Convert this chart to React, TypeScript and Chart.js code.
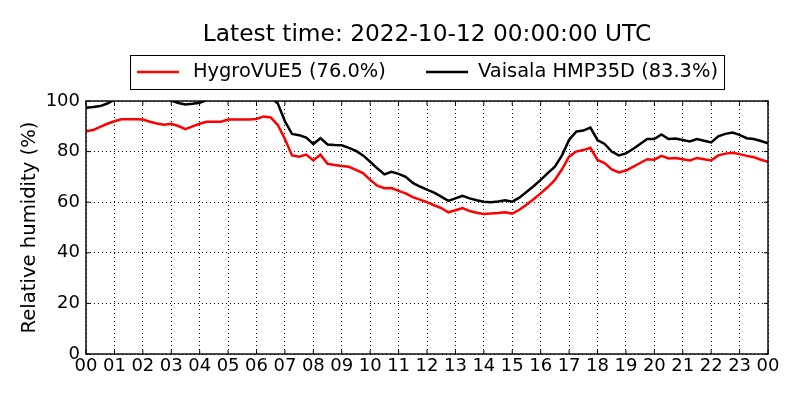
import { useEffect, useRef } from 'react';
import { Chart, registerables, Plugin } from 'chart.js';

Chart.register(...registerables);

const chartTitle = 'Latest time: 2022-10-12 00:00:00 UTC';
const yAxisTitle = 'Relative humidity (%)';
const hourLabels = [
  '00', '01', '02', '03', '04', '05', '06', '07', '08', '09', '10', '11', '12',
  '13', '14', '15', '16', '17', '18', '19', '20', '21', '22', '23', '00',
];
const seriesNames = ['HygroVUE5 (76.0%)', 'Vaisala HMP35D (83.3%)'];
const seriesColors = ['#ff0000', '#000000'];

// one reading every 15 minutes, 00:00 -> 24:00
const stepMinutes = 15;

const hygroVue5 = [
  88.0, 88.5, 89.8, 91.0, 92.0, 92.8, 92.8, 92.8, 92.7, 91.8, 91.1, 90.6,
  91.0, 90.1, 88.9, 90.0, 91.0, 91.8, 91.8, 91.8, 92.7, 92.7, 92.7, 92.7,
  92.9, 93.9, 93.5, 90.5, 85.0, 78.5, 78.0, 78.8, 76.5, 78.8, 75.2, 74.7,
  74.3, 74.0, 72.8, 71.5, 68.8, 66.5, 65.5, 65.6, 64.5, 63.5, 62.0, 61.0,
  60.0, 58.8, 57.7, 56.0, 56.8, 57.7, 56.5, 55.8, 55.3, 55.5, 55.7, 56.0,
  55.5, 57.0, 59.0, 61.2, 63.5, 66.0, 68.8, 73.0, 78.0, 80.0, 80.6, 81.5,
  76.7, 75.5, 73.0, 71.8, 72.5, 74.0, 75.5, 77.0, 76.8, 78.3, 77.3, 77.5,
  77.0, 76.5, 77.5, 77.0, 76.5, 78.5, 79.2, 79.5, 79.0, 78.3, 77.8, 76.8,
  76.0,
];

const hmp35d = [
  97.3, 97.6, 98.0, 99.0, 100.5, 101.5, 101.5, 101.5, 101.5, 101.5, 101.5, 101.5,
  100.2, 99.2, 98.6, 98.9, 99.3, 100.4, 101.5, 101.5, 101.5, 101.5, 101.5, 101.5,
  101.5, 101.5, 101.5, 99.0, 92.0, 87.0, 86.5, 85.5, 83.0, 85.3, 82.8, 82.6,
  82.5, 81.5, 80.3, 78.5, 76.0, 73.4, 71.0, 72.0, 71.2, 70.0, 67.6, 66.2,
  65.0, 63.8, 62.2, 60.5, 61.5, 62.5, 61.5, 60.8, 60.2, 60.0, 60.3, 60.8,
  60.2, 61.8, 64.0, 66.3, 68.8, 71.5, 74.0, 78.5, 84.6, 87.9, 88.3, 89.5,
  84.6, 83.0, 80.0, 78.5, 79.3, 81.0, 83.0, 85.0, 85.0, 86.8, 85.0, 85.2,
  84.6, 84.0, 85.0, 84.3, 83.6, 86.0, 87.0, 87.5, 86.6, 85.3, 85.0, 84.2,
  83.3,
];

const font = 'DejaVu Sans';

const toPoints = (values: number[]) =>
  values.map((y, i) => ({ x: (i * stepMinutes) / 60, y }));

// matplotlib-like frame with inward ticks
const framePlugin: Plugin<'line'> = {
  id: 'frame',
  afterDatasetsDraw(chart) {
    const { ctx, chartArea: a, scales } = chart;
    ctx.save();
    ctx.strokeStyle = '#000';
    ctx.lineWidth = 1.4;
    ctx.strokeRect(a.left, a.top, a.right - a.left, a.bottom - a.top);
    ctx.lineWidth = 1;
    ctx.beginPath();
    scales.x.ticks.forEach((t) => {
      const x = scales.x.getPixelForValue(t.value);
      ctx.moveTo(x, a.bottom);
      ctx.lineTo(x, a.bottom - 4);
      ctx.moveTo(x, a.top);
      ctx.lineTo(x, a.top + 4);
    });
    scales.y.ticks.forEach((t) => {
      const y = scales.y.getPixelForValue(t.value);
      ctx.moveTo(a.left, y);
      ctx.lineTo(a.left + 4, y);
      ctx.moveTo(a.right, y);
      ctx.lineTo(a.right - 4, y);
    });
    ctx.stroke();
    ctx.restore();
  },
};

// title centred over the plot area and a boxed legend, like the original
const headerPlugin: Plugin<'line'> = {
  id: 'header',
  afterDraw(chart) {
    const { ctx, chartArea: a } = chart;
    ctx.save();
    ctx.fillStyle = '#000';
    ctx.font = `23.3px "${font}"`;
    ctx.textAlign = 'center';
    ctx.textBaseline = 'middle';
    ctx.fillText(chartTitle, (a.left + a.right) / 2, 35);

    ctx.fillStyle = '#fff';
    ctx.fillRect(130.5, 55.5, 594, 34);
    ctx.strokeStyle = '#000';
    ctx.lineWidth = 1;
    ctx.strokeRect(130.5, 55.5, 594, 34);

    const lineX = [137, 426];
    const textX = [193, 478];
    ctx.font = `19.4px "${font}"`;
    ctx.textAlign = 'left';
    seriesNames.forEach((name, i) => {
      ctx.strokeStyle = seriesColors[i];
      ctx.lineWidth = 2.5;
      ctx.beginPath();
      ctx.moveTo(lineX[i], 72);
      ctx.lineTo(lineX[i] + 42, 72);
      ctx.stroke();
      ctx.fillStyle = '#000';
      ctx.fillText(name, textX[i], 72);
    });
    ctx.restore();
  },
};

const HumidityChart = () => {
  const chartRef = useRef<HTMLCanvasElement | null>(null);
  const chartInstance = useRef<Chart | null>(null);

  useEffect(() => {
    document.body.style.margin = '0';
    if (!chartRef.current) return;
    const ctx = chartRef.current.getContext('2d');
    if (!ctx) return;
    if (chartInstance.current) chartInstance.current.destroy();

    chartInstance.current = new Chart(ctx, {
      type: 'line',
      data: {
        datasets: [
          {
            label: seriesNames[0],
            data: toPoints(hygroVue5),
            borderColor: seriesColors[0],
            borderWidth: 2.5,
            pointRadius: 0,
            tension: 0,
          },
          {
            label: seriesNames[1],
            data: toPoints(hmp35d),
            borderColor: seriesColors[1],
            borderWidth: 2.5,
            pointRadius: 0,
            tension: 0,
          },
        ],
      },
      options: {
        animation: false,
        responsive: false,
        devicePixelRatio: 1,
        layout: { padding: { left: 0, right: 32, top: 101, bottom: 0 } },
        plugins: {
          legend: { display: false },
          tooltip: { enabled: false },
          title: { display: false },
        },
        scales: {
          x: {
            type: 'linear',
            min: 0,
            max: 24,
            afterFit: (scale) => {
              scale.height = 46;
            },
            ticks: {
              stepSize: 1,
              autoSkip: false,
              maxRotation: 0,
              padding: 2,
              color: '#000',
              font: { family: font, size: 18 },
              callback: (v) => hourLabels[Number(v)],
            },
            grid: { color: '#000', lineWidth: 1, drawTicks: false },
            border: { display: false, dash: [1, 3] },
          },
          y: {
            min: 0,
            max: 100,
            afterFit: (scale) => {
              scale.width = 86;
            },
            ticks: {
              stepSize: 20,
              padding: 6,
              color: '#000',
              font: { family: font, size: 18 },
            },
            title: {
              display: true,
              text: yAxisTitle,
              color: '#000',
              font: { family: font, size: 19.6 },
              padding: { top: 18, bottom: 0 },
            },
            grid: { color: '#000', lineWidth: 1, drawTicks: false },
            border: { display: false, dash: [1, 3] },
          },
        },
      },
      plugins: [framePlugin, headerPlugin],
    });

    return () => {
      if (chartInstance.current) {
        chartInstance.current.destroy();
        chartInstance.current = null;
      }
    };
  }, []);

  return (
    <div style={{ width: 800, height: 400 }}>
      <canvas ref={chartRef} width={800} height={400} style={{ width: 800, height: 400 }} />
    </div>
  );
};

export default function App() {
  return <HumidityChart />;
}
